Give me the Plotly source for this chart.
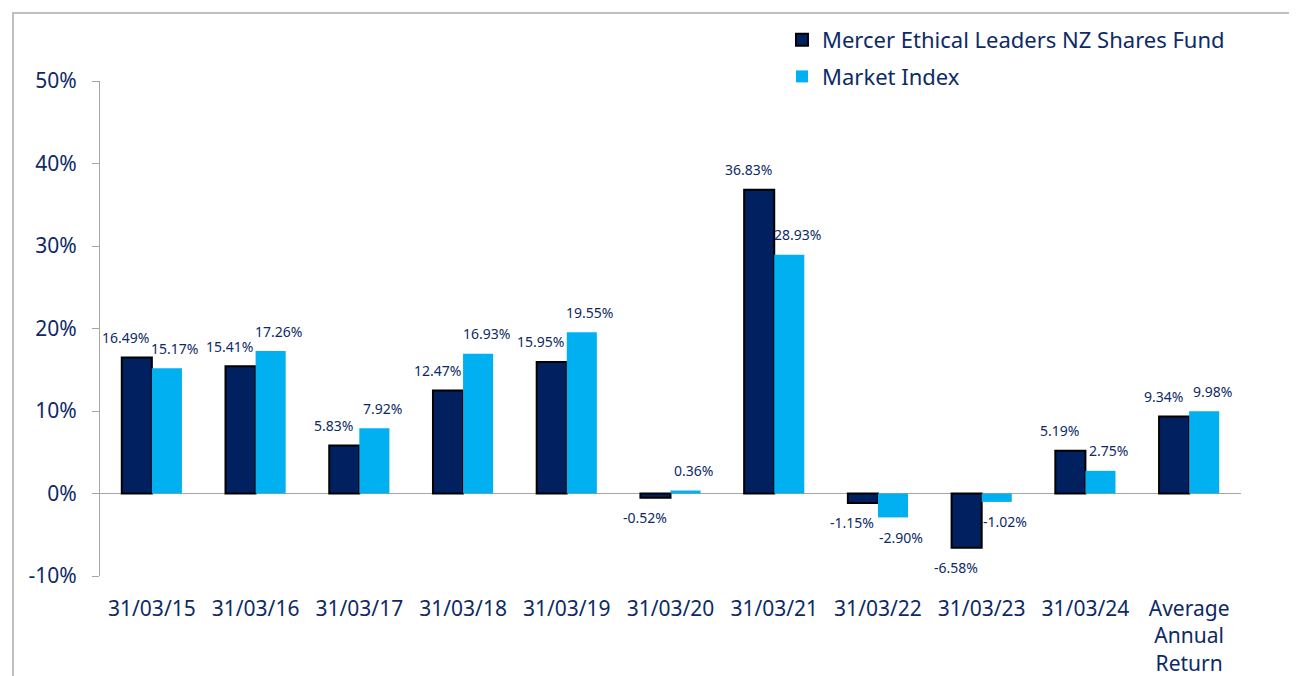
import plotly.graph_objects as go

categories = ["31/03/15", "31/03/16", "31/03/17", "31/03/18", "31/03/19", "31/03/20",
              "31/03/21", "31/03/22", "31/03/23", "31/03/24", "Average<br>Annual<br>Return"]
fund_values = [16.49, 15.41, 5.83, 12.47, 15.95, -0.52, 36.83, -1.15, -6.58, 5.19, 9.34]
index_values = [15.17, 17.26, 7.92, 16.93, 19.55, 0.36, 28.93, -2.90, -1.02, 2.75, 9.98]
fund_name = "Mercer Ethical Leaders NZ Shares Fund"
index_name = "Market Index"
y_ticks = [-10, 0, 10, 20, 30, 40, 50]

DARK = "#002060"
LIGHT = "#00B0F0"
TEXT = "#0d2a66"
FONT = "Noto Sans"

fig = go.Figure()
fig.add_trace(go.Bar(x=categories, y=fund_values, name=fund_name,
                     marker=dict(color=DARK, line=dict(color="#000000", width=2)),
                     legendgroup="a"))
fig.add_trace(go.Bar(x=categories, y=index_values, name=index_name,
                     marker=dict(color=LIGHT, line=dict(width=0)),
                     legendgroup="b"))

annotations = []
for c, v in zip(categories, fund_values):
    annotations.append(dict(x=c, y=v, xref="x", yref="y", text=f"{v:.2f}%", showarrow=False,
                            xshift=-26, yshift=20 if v >= 0 else -20,
                            font=dict(family=FONT, size=14, color=TEXT)))
for c, v in zip(categories, index_values):
    annotations.append(dict(x=c, y=v, xref="x", yref="y", text=f"{v:.2f}%", showarrow=False,
                            xshift=23, yshift=20 if v >= 0 else -20,
                            font=dict(family=FONT, size=14, color=TEXT)))

OFF = 8  # page body margin
W, H = 1289, 668
L, R, T, B = 92, 56, 73, 100
pw, ph = W - L - R, H - T - B

def px(x):
    return (x - OFF - L) / pw

def py(y):
    return (OFF + H - B - y) / ph

fig.update_layout(
    width=W, height=H,
    margin=dict(l=L, r=R, t=T, b=B, pad=0, autoexpand=False),
    paper_bgcolor="white", plot_bgcolor="white",
    barmode="group", bargap=0.42, bargroupgap=0,
    font=dict(family=FONT, color=TEXT),
    showlegend=True,
    legend=dict(x=px(782), y=py(19), xanchor="left", yanchor="top",
                font=dict(family=FONT, size=22, color=TEXT),
                traceorder="grouped", tracegroupgap=5, bgcolor="rgba(0,0,0,0)"),
    annotations=annotations,
    shapes=[dict(type="rect", xref="paper", yref="paper",
                 x0=px(13), x1=px(1320), y0=py(700), y1=py(13),
                 line=dict(color="#bfbfbf", width=2), layer="below")],
)
fig.update_yaxes(range=[-10, 50], tickvals=y_ticks, ticktext=[f"{t}%" for t in y_ticks],
                 showgrid=False, showline=True, linecolor="#a6a6a6", linewidth=1,
                 ticks="outside", ticklen=7, tickcolor="#a6a6a6", ticklabelstandoff=11,
                 zeroline=True, zerolinecolor="#a6a6a6", zerolinewidth=1, automargin=False,
                 tickfont=dict(family=FONT, size=21, color=TEXT))
fig.update_xaxes(showgrid=False, showline=False, ticks="", ticklabelstandoff=18, automargin=False,
                 tickfont=dict(family=FONT, size=21, color=TEXT), tickangle=0)

fig.write_html("out.html")
